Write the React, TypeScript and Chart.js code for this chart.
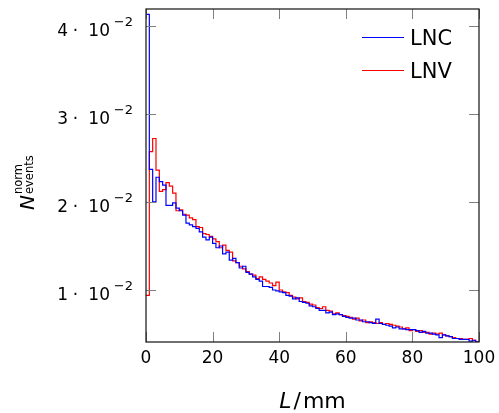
import React, { useEffect, useRef } from "react";
import { Chart, registerables } from "chart.js";

Chart.register(...registerables);

// L / mm bin edges: 100 bins of 1 mm
const binWidth = 1;
const lncValues = [
  0.0413, 0.0237, 0.0200, 0.0228, 0.0223, 0.0219, 0.0196, 0.0196, 0.0199, 0.0193,
  0.0190, 0.0185, 0.0176, 0.0174, 0.0172, 0.0170, 0.0166, 0.0160, 0.0157, 0.0160,
  0.0153, 0.0148, 0.0150, 0.0141, 0.0143, 0.0134, 0.0136, 0.0131, 0.0125, 0.0127,
  0.0120, 0.0118, 0.0115, 0.0112, 0.0110, 0.0104, 0.0104, 0.0103, 0.0100, 0.0099,
  0.0098, 0.0097, 0.0094, 0.0093, 0.0090, 0.0091, 0.0087, 0.0086, 0.0085, 0.0082,
  0.0081, 0.0079, 0.0077, 0.0077, 0.0074, 0.0075, 0.0072, 0.0073, 0.0072, 0.0070,
  0.0069, 0.0068, 0.0068, 0.0066, 0.0066, 0.0064, 0.0064, 0.0063, 0.0062, 0.0067,
  0.0062, 0.0061, 0.0060, 0.0059, 0.0057, 0.0058, 0.0056, 0.0056, 0.0055, 0.0055,
  0.0055, 0.0054, 0.0052, 0.0053, 0.0051, 0.0051, 0.0050, 0.0049, 0.0046, 0.0049,
  0.0048, 0.0047, 0.0045, 0.0045, 0.0044, 0.0044, 0.0044, 0.0042, 0.0043, 0.0041,
];
const lnvValues = [
  0.0094, 0.0257, 0.0272, 0.0236, 0.0212, 0.0214, 0.0222, 0.0218, 0.0210, 0.0190,
  0.0191, 0.0186, 0.0185, 0.0182, 0.0180, 0.0172, 0.0171, 0.0164, 0.0163, 0.0161,
  0.0158, 0.0155, 0.0148, 0.0151, 0.0145, 0.0143, 0.0133, 0.0131, 0.0127, 0.0124,
  0.0121, 0.0118, 0.0117, 0.0113, 0.0115, 0.0112, 0.0110, 0.0108, 0.0105, 0.0109,
  0.0100, 0.0098, 0.0097, 0.0094, 0.0092, 0.0090, 0.0091, 0.0087, 0.0086, 0.0084,
  0.0083, 0.0080, 0.0079, 0.0081, 0.0077, 0.0076, 0.0073, 0.0074, 0.0072, 0.0071,
  0.0070, 0.0069, 0.0067, 0.0068, 0.0065, 0.0066, 0.0063, 0.0064, 0.0063, 0.0062,
  0.0063, 0.0061, 0.0062, 0.0061, 0.0060, 0.0059, 0.0058, 0.0056, 0.0057, 0.0054,
  0.0055, 0.0053, 0.0054, 0.0052, 0.0052, 0.0050, 0.0051, 0.0050, 0.0051, 0.0049,
  0.0048, 0.0047, 0.0046, 0.0045, 0.0045, 0.0044, 0.0044, 0.0045, 0.0043, 0.0041,
];
const xTicks = [0, 20, 40, 60, 80, 100];
const yTicks = [0.01, 0.02, 0.03, 0.04];
const yTickMantissas = ["1", "2", "3", "4"];
const yTickExponent = "−2";
const seriesNames = ["LNC", "LNV"];
const seriesColors = ["#0000ff", "#ff0000"];

const FONT = '"DejaVu Sans", sans-serif';

function histPoints(values: number[]) {
  const pts = values.map((v, i) => ({ x: i * binWidth, y: v }));
  pts.push({ x: values.length * binWidth, y: values[values.length - 1] });
  return pts;
}

const decorPlugin = {
  id: "decor",
  afterDatasetsDraw(chart: any) {
    const { ctx, chartArea: a, scales } = chart;
    const xs = scales.x;
    const ys = scales.y;
    ctx.save();
    // inward ticks
    ctx.strokeStyle = "#808080";
    ctx.lineWidth = 1;
    const tl = 10;
    xTicks.forEach((t) => {
      const px = Math.round(xs.getPixelForValue(t)) + 0.5;
      ctx.beginPath();
      ctx.moveTo(px, a.bottom);
      ctx.lineTo(px, a.bottom - tl);
      ctx.moveTo(px, a.top);
      ctx.lineTo(px, a.top + tl);
      ctx.stroke();
    });
    yTicks.forEach((t) => {
      const py = Math.round(ys.getPixelForValue(t)) + 0.5;
      ctx.beginPath();
      ctx.moveTo(a.left, py);
      ctx.lineTo(a.left + tl, py);
      ctx.moveTo(a.right, py);
      ctx.lineTo(a.right - tl, py);
      ctx.stroke();
    });
    // frame
    ctx.strokeStyle = "#111";
    ctx.lineWidth = 1.2;
    ctx.strokeRect(a.left, a.top, a.right - a.left, a.bottom - a.top);

    ctx.fillStyle = "#000";
    // x tick labels
    ctx.font = `17px ${FONT}`;
    ctx.textAlign = "center";
    ctx.textBaseline = "alphabetic";
    xTicks.forEach((t) => {
      ctx.fillText(String(t), xs.getPixelForValue(t), a.bottom + 21);
    });
    // y tick labels: m · 10^-2
    yTicks.forEach((t, i) => {
      const py = ys.getPixelForValue(t);
      const base = py + 10;
      const right = a.left - 13;
      ctx.font = `13px ${FONT}`;
      ctx.textAlign = "right";
      ctx.fillText(yTickExponent, right, base - 10);
      ctx.font = `17px ${FONT}`;
      const tenRight = right - 23;
      ctx.fillText("10", tenRight, base);
      ctx.textAlign = "center";
      ctx.fillText("·", tenRight - 34.5, base);
      ctx.textAlign = "right";
      ctx.fillText(yTickMantissas[i], tenRight - 42, base);
    });
    // x axis title: L/mm
    ctx.textAlign = "left";
    const cx = (a.left + a.right) / 2;
    const tf = 22;
    ctx.font = `italic ${tf}px ${FONT}`;
    const lw = ctx.measureText("L").width;
    ctx.font = `${tf}px ${FONT}`;
    const sw = ctx.measureText("/").width;
    const mw = ctx.measureText("mm").width;
    const total = lw + 2 + sw + 2 + mw;
    let x0 = cx - total / 2;
    const by = 408;
    ctx.font = `italic ${tf}px ${FONT}`;
    ctx.fillText("L", x0, by);
    x0 += lw + 2;
    ctx.font = `${tf}px ${FONT}`;
    ctx.fillText("/", x0, by);
    x0 += sw + 2;
    ctx.fillText("mm", x0, by);

    // y axis title: N^norm_events (rotated)
    ctx.save();
    ctx.translate(34, 210);
    ctx.rotate(-Math.PI / 2);
    ctx.textAlign = "left";
    ctx.font = `italic 20px ${FONT}`;
    ctx.fillText("N", 0, 0);
    const nw = ctx.measureText("N").width;
    ctx.font = `11.5px ${FONT}`;
    ctx.fillText("norm", nw + 1, -12);
    ctx.fillText("events", nw + 1, -1);
    ctx.restore();

    // legend
    const legY = [37, 70];
    seriesNames.forEach((name, i) => {
      ctx.strokeStyle = seriesColors[i];
      ctx.lineWidth = 1.2;
      ctx.beginPath();
      ctx.moveTo(362, legY[i] + 0.5);
      ctx.lineTo(404, legY[i] + 0.5);
      ctx.stroke();
      ctx.font = `21px ${FONT}`;
      ctx.textAlign = "left";
      ctx.fillStyle = "#000";
      ctx.fillText(name, 410, legY[i] + 8);
    });
    ctx.restore();
  },
};

export default function App() {
  const ref = useRef<HTMLCanvasElement | null>(null);
  useEffect(() => {
    document.body.style.margin = "0";
    const canvas = ref.current!;
    const chart = new Chart(canvas, {
      type: "line",
      data: {
        datasets: [
          {
            label: seriesNames[0],
            data: histPoints(lncValues),
            borderColor: seriesColors[0],
            borderWidth: 1.2,
            pointRadius: 0,
            stepped: "before",
            fill: false,
          },
          {
            label: seriesNames[1],
            data: histPoints(lnvValues),
            borderColor: seriesColors[1],
            borderWidth: 1.2,
            pointRadius: 0,
            stepped: "before",
            fill: false,
          },
        ],
      },
      options: {
        responsive: false,
        animation: false,
        devicePixelRatio: 1,
        layout: { padding: { left: 146, right: 20, top: 9, bottom: 71 } },
        plugins: { legend: { display: false }, tooltip: { enabled: false } },
        scales: {
          x: { type: "linear", min: 0, max: 100, display: false },
          y: { type: "linear", min: 0.0041, max: 0.0419, display: false },
        },
      },
      plugins: [decorPlugin],
    });
    return () => chart.destroy();
  }, []);
  return (
    <div style={{ position: "absolute", left: 0, top: 0, width: 499, height: 413 }}>
      <canvas ref={ref} width={499} height={413} style={{ width: 499, height: 413 }} />
    </div>
  );
}
